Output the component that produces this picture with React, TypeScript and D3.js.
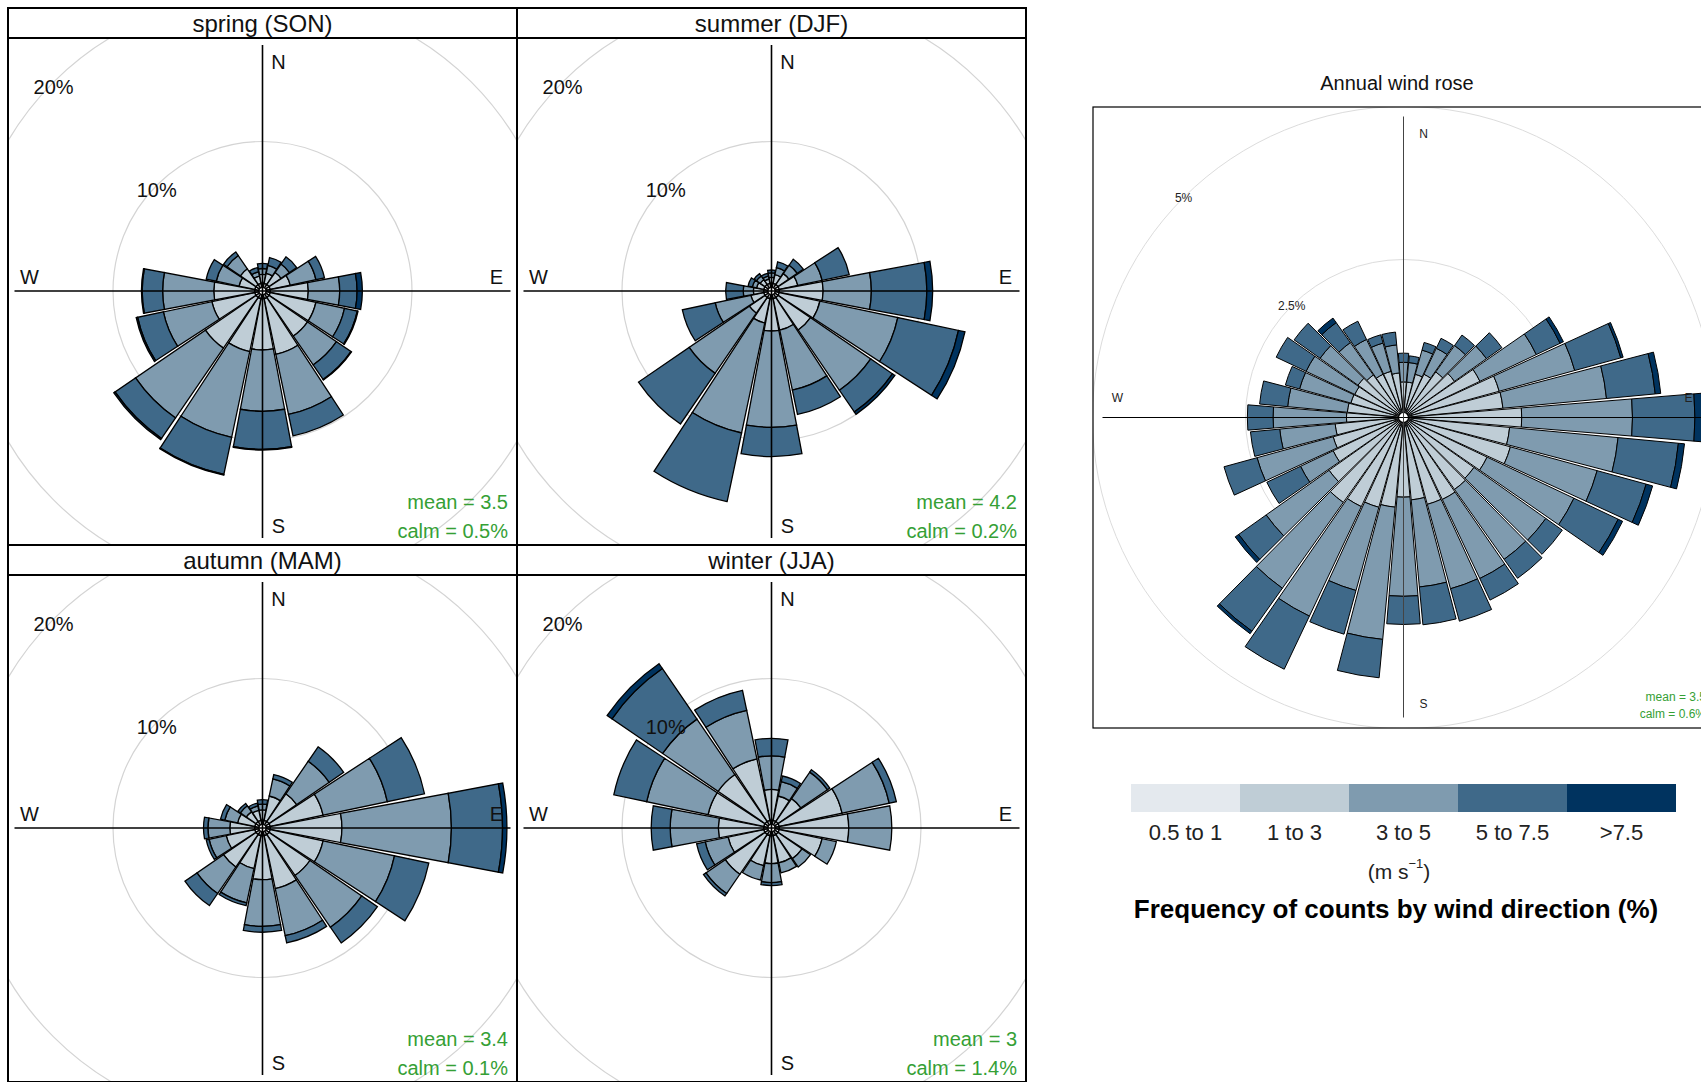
import React from "react";
import * as d3 from "d3";

// Speed bins (legend) and colours
const speedBins = ["0.5 to 1", "1 to 3", "3 to 5", "5 to 7.5", ">7.5"];
const binColors = ["#E4E9EE", "#BFCDD6", "#7F9BAF", "#3F6989", "#00335F"];

// Direction categories (degrees clockwise from north)
const seasonDirs = d3.range(16).map((i) => i * 22.5);
const annualDirs = d3.range(36).map((i) => i * 10);

// Frequency (%) per direction, per speed bin [0.5-1, 1-3, 3-5, 5-7.5, >7.5]
const spring = [
  [0.3, 0.6, 0.4, 0.35, 0],
  [0.3, 0.7, 0.55, 0.55, 0],
  [0.3, 1.0, 0.7, 0.6, 0],
  [0.3, 1.4, 1.8, 0.6, 0],
  [0.3, 2.6, 2.15, 1.19, 0.36],
  [0.3, 3.2, 2.0, 0.9, 0.05],
  [0.3, 3.2, 2.4, 1.2, 0.05],
  [0.3, 3.9, 4.2, 1.5, 0],
  [0.3, 3.5, 4.2, 2.6, 0.05],
  [0.3, 3.7, 6.0, 2.6, 0.05],
  [0.3, 4.2, 5.8, 1.7, 0.1],
  [0.3, 3.0, 3.4, 1.8, 0.1],
  [0.3, 2.8, 3.5, 1.4, 0.05],
  [0.3, 1.1, 1.6, 0.7, 0],
  [0.3, 1.3, 1.1, 0.3, 0],
  [0.3, 0.5, 0.3, 0.3, 0],
];

const summer = [
  [0.3, 0.4, 0.3, 0.2, 0],
  [0.3, 0.6, 0.5, 0.4, 0],
  [0.3, 0.9, 0.7, 0.5, 0],
  [0.3, 1.3, 1.7, 1.9, 0],
  [0.3, 3.0, 3.3, 3.8, 0.4],
  [0.3, 2.85, 5.45, 4.25, 0.45],
  [0.3, 2.7, 5.0, 1.8, 0.2],
  [0.3, 2.2, 4.2, 1.7, 0],
  [0.3, 2.2, 6.6, 2.0, 0],
  [0.3, 1.7, 7.7, 4.8, 0],
  [0.3, 1.3, 5.0, 4.2, 0],
  [0.3, 0.9, 2.5, 2.3, 0],
  [0.3, 0.7, 0.7, 1.2, 0],
  [0.3, 0.5, 0.3, 0.3, 0],
  [0.3, 0.4, 0.3, 0.2, 0],
  [0.3, 0.3, 0.2, 0.2, 0],
];

const autumn = [
  [0.3, 0.7, 0.4, 0.3, 0],
  [0.3, 1.7, 1.2, 0.3, 0],
  [0.3, 2.3, 2.7, 1.2, 0],
  [0.3, 3.7, 4.5, 2.6, 0],
  [0.3, 4.9, 7.5, 3.5, 0.3],
  [0.3, 3.7, 5.0, 2.4, 0],
  [0.3, 3.4, 4.3, 1.3, 0],
  [0.3, 3.7, 3.3, 0.5, 0],
  [0.3, 3.0, 3.2, 0.4, 0],
  [0.3, 2.3, 2.4, 0.2, 0],
  [0.3, 2.7, 2.2, 1.0, 0],
  [0.3, 2.0, 1.2, 0.2, 0],
  [0.3, 1.7, 1.5, 0.3, 0],
  [0.3, 1.2, 0.9, 0.3, 0],
  [0.3, 0.8, 0.5, 0.2, 0],
  [0.3, 0.7, 0.3, 0.2, 0],
];

const winter = [
  [0.3, 2.1, 2.3, 1.2, 0],
  [0.3, 1.7, 1.0, 0.4, 0],
  [0.3, 1.9, 2.2, 0.2, 0],
  [0.3, 4.4, 3.3, 0.5, 0],
  [0.3, 4.75, 2.95, 0, 0],
  [0.3, 3.0, 1.0, 0, 0],
  [0.3, 2.0, 0.7, 0, 0],
  [0.3, 1.9, 0.7, 0, 0],
  [0.3, 1.9, 1.3, 0.2, 0],
  [0.3, 2.1, 1.0, 0, 0],
  [0.3, 3.3, 1.6, 0.2, 0],
  [0.3, 2.5, 1.6, 0.6, 0],
  [0.3, 3.1, 3.3, 1.3, 0],
  [0.3, 3.9, 4.3, 2.3, 0],
  [0.3, 3.9, 4.6, 4.2, 0.4],
  [0.3, 4.3, 3.4, 1.4, 0],
];

const annual = [
  [0.06, 0.44, 0.32, 0.15, 0],
  [0.06, 0.44, 0.32, 0.11, 0],
  [0.06, 0.59, 0.41, 0.13, 0],
  [0.06, 0.64, 0.47, 0.18, 0],
  [0.06, 0.77, 0.53, 0.21, 0],
  [0.06, 0.88, 0.64, 0.31, 0],
  [0.06, 1.24, 1.02, 0.43, 0.06],
  [0.06, 1.48, 1.28, 0.78, 0.04],
  [0.06, 1.49, 1.7, 0.8, 0.09],
  [0.06, 1.79, 1.81, 1.02, 0.17],
  [0.06, 1.6, 1.78, 0.99, 0.1],
  [0.06, 1.67, 1.47, 0.83, 0.11],
  [0.06, 1.37, 1.57, 0.8, 0.08],
  [0.06, 1.27, 1.44, 0.33, 0],
  [0.06, 1.3, 1.4, 0.38, 0],
  [0.06, 1.34, 1.43, 0.39, 0],
  [0.06, 1.33, 1.43, 0.55, 0],
  [0.06, 1.21, 1.43, 0.62, 0],
  [0.06, 1.16, 1.62, 0.46, 0],
  [0.06, 1.33, 2.17, 0.63, 0],
  [0.06, 1.38, 1.41, 0.74, 0],
  [0.06, 1.47, 1.98, 0.96, 0],
  [0.06, 1.56, 1.72, 0.86, 0.05],
  [0.06, 1.35, 1.26, 0.55, 0.07],
  [0.06, 1.13, 0.59, 0.61, 0],
  [0.06, 1.05, 1.29, 0.56, 0],
  [0.06, 0.98, 0.91, 0.48, 0],
  [0.06, 0.79, 1.2, 0.42, 0],
  [0.06, 0.78, 0.98, 0.46, 0],
  [0.06, 0.75, 0.87, 0.24, 0],
  [0.06, 0.74, 0.88, 0.54, 0],
  [0.06, 0.77, 0.76, 0.52, 0],
  [0.06, 0.71, 0.65, 0.4, 0.09],
  [0.06, 0.64, 0.63, 0.33, 0],
  [0.06, 0.64, 0.48, 0.14, 0],
  [0.06, 0.59, 0.46, 0.21, 0],
];

const seasonNames = ["spring (SON)", "summer (DJF)", "autumn (MAM)", "winter (JJA)"];
const seasonMeans = ["3.5", "4.2", "3.4", "3"];
const seasonCalms = ["0.5%", "0.2%", "0.1%", "1.4%"];
const seasonGrid = [10, 20];
const annualGrid = [2.5, 5];
const annualMean = "3.5";
const annualCalm = "0.6%";

const FONT = "'Liberation Sans', Arial, Helvetica, sans-serif";
const GREEN = "#35a035";

type RoseProps = {
  cx: number;
  cy: number;
  rows: number[][];
  dirs: number[];
  r: d3.ScaleLinear<number, number>;
  half: number;
  sw: number;
};

function RoseBars({ cx, cy, rows, dirs, r, half, sw }: RoseProps) {
  const arc = d3.arc<any>();
  const paths: React.ReactNode[] = [];
  rows.forEach((row, i) => {
    const a = (dirs[i] * Math.PI) / 180;
    const h = (half * Math.PI) / 180;
    const cum = Array.from(d3.cumsum(row));
    row.forEach((v, j) => {
      if (v <= 0) return;
      const prev = j === 0 ? 0 : cum[j - 1];
      const d = arc({
        innerRadius: r(prev),
        outerRadius: r(cum[j]),
        startAngle: a - h,
        endAngle: a + h,
      });
      paths.push(
        <path
          key={`${i}-${j}`}
          d={d || ""}
          transform={`translate(${cx},${cy})`}
          fill={binColors[j]}
          stroke="#000"
          strokeWidth={sw}
          strokeLinejoin="miter"
        />
      );
    });
  });
  return <g>{paths}</g>;
}

function SeasonPanel({ idx }: { idx: number }) {
  const col = idx % 2;
  const row = Math.floor(idx / 2);
  const x0 = 8 + col * 509;
  const x1 = x0 + 509;
  const y0 = 8 + row * 537;
  const sb = y0 + 30;
  const y1 = y0 + 537;
  const cx = x0 + 254.5;
  const cy = sb + 253;
  const r = d3.scaleLinear().domain([0, 10]).range([3.5, 149.5]);
  const rows = [spring, summer, autumn, winter][idx];
  return (
    <g>
      <clipPath id={`clipS${idx}`}>
        <rect x={x0} y={sb} width={x1 - x0} height={y1 - sb} />
      </clipPath>
      <g clipPath={`url(#clipS${idx})`}>
        {seasonGrid.map((p) => (
          <circle key={p} cx={cx} cy={cy} r={r(p)} fill="none" stroke="#d4d4d4" strokeWidth={1.2} />
        ))}
        <RoseBars cx={cx} cy={cy} rows={rows} dirs={seasonDirs} r={r} half={10.6} sw={1.3} />
        <circle cx={cx} cy={cy} r={3.5} fill="#fff" stroke="#000" strokeWidth={1.2} />
        <line x1={cx - 248} x2={cx + 248} y1={cy} y2={cy} stroke="#000" strokeWidth={1.6} />
        <line x1={cx} x2={cx} y1={cy - 246} y2={cy + 247} stroke="#000" strokeWidth={1.6} />
        {seasonGrid.map((p) => (
          <text
            key={p}
            x={cx - r(p) * Math.SQRT1_2}
            y={cy - r(p) * Math.SQRT1_2 + 5}
            fontSize={20}
            fontFamily={FONT}
            textAnchor="middle"
            dominantBaseline="central"
            fill="#111"
          >
            {p}%
          </text>
        ))}
        <g fontSize={20} fontFamily={FONT} fill="#111" textAnchor="middle" dominantBaseline="central">
          <text x={cx + 16} y={cy - 229}>N</text>
          <text x={cx + 16} y={cy + 235}>S</text>
          <text x={cx - 233} y={cy - 14}>W</text>
          <text x={cx + 234} y={cy - 14}>E</text>
        </g>
        <g fontSize={20} fontFamily={FONT} fill={GREEN} textAnchor="end" dominantBaseline="central">
          <text x={x1 - 9} y={y1 - 43.5}>mean = {seasonMeans[idx]}</text>
          <text x={x1 - 9} y={y1 - 13.6}>calm = {seasonCalms[idx]}</text>
        </g>
      </g>
      <rect x={x0} y={y0} width={x1 - x0} height={sb - y0} fill="none" stroke="#000" strokeWidth={2} />
      <text
        x={(x0 + x1) / 2}
        y={y0 + 24}
        fontSize={24}
        fontFamily={FONT}
        textAnchor="middle"
        fill="#111"
      >
        {seasonNames[idx]}
      </text>
      <rect x={x0} y={y0} width={x1 - x0} height={y1 - y0} fill="none" stroke="#000" strokeWidth={2} />
    </g>
  );
}

function AnnualPanel() {
  const bx = 1093;
  const by = 107;
  const bs = 621;
  const cx = bx + bs / 2;
  const cy = by + bs / 2;
  const r = d3.scaleLinear().domain([0, 5]).range([5, 311]);
  return (
    <g>
      <text x={1397} y={83} fontSize={20} fontFamily={FONT} textAnchor="middle" dominantBaseline="central" fill="#111">
        Annual wind rose
      </text>
      <clipPath id="clipA">
        <rect x={bx} y={by} width={bs} height={bs} />
      </clipPath>
      <g clipPath="url(#clipA)">
        {annualGrid.map((p) => (
          <circle key={p} cx={cx} cy={cy} r={r(p)} fill="none" stroke="#dcdcdc" strokeWidth={1} />
        ))}
        <RoseBars cx={cx} cy={cy} rows={annual} dirs={annualDirs} r={r} half={4.65} sw={1} />
        <circle cx={cx} cy={cy} r={5} fill="#fff" stroke="#000" strokeWidth={1.2} />
        <line x1={cx - 301} x2={cx + 301} y1={cy} y2={cy} stroke="#000" strokeWidth={1} />
        <line x1={cx} x2={cx} y1={cy - 301} y2={cy + 300} stroke="#444" strokeWidth={1} />
        {annualGrid.map((p) => (
          <text
            key={p}
            x={cx - r(p) * Math.SQRT1_2}
            y={cy - r(p) * Math.SQRT1_2}
            fontSize={12}
            fontFamily={FONT}
            textAnchor="middle"
            dominantBaseline="central"
            fill="#222"
          >
            {p}%
          </text>
        ))}
        <g fontSize={12} fontFamily={FONT} fill="#222" textAnchor="middle" dominantBaseline="central">
          <text x={cx + 20} y={cy - 284}>N</text>
          <text x={cx + 20} y={cy + 286}>S</text>
          <text x={cx - 286} y={cy - 20}>W</text>
          <text x={cx + 285} y={cy - 20}>E</text>
        </g>
        <g fontSize={12} fontFamily={FONT} fill={GREEN} textAnchor="end" dominantBaseline="central">
          <text x={bx + bs - 8} y={697}>mean = {annualMean}</text>
          <text x={bx + bs - 8} y={714}>calm = {annualCalm}</text>
        </g>
      </g>
      <rect x={bx} y={by} width={bs} height={bs} fill="none" stroke="#000" strokeWidth={1.2} />
    </g>
  );
}

function Legend() {
  const x = d3.scaleBand().domain(speedBins).range([1131, 1676]).padding(0);
  return (
    <g>
      {speedBins.map((b, i) => (
        <rect key={b} x={x(b)} y={784} width={x.bandwidth()} height={28} fill={binColors[i]} />
      ))}
      {speedBins.map((b) => (
        <text
          key={b}
          x={(x(b) || 0) + x.bandwidth() / 2}
          y={832}
          fontSize={22}
          fontFamily={FONT}
          textAnchor="middle"
          dominantBaseline="central"
          fill="#222"
        >
          {b}
        </text>
      ))}
      <text x={1399} y={871} fontSize={21} fontFamily={FONT} textAnchor="middle" dominantBaseline="central" fill="#222">
        (m s<tspan fontSize={13} dy={-8}>−1</tspan>
        <tspan dy={8}>)</tspan>
      </text>
      <text
        x={1396}
        y={909}
        fontSize={26}
        fontWeight="bold"
        fontFamily={FONT}
        textAnchor="middle"
        dominantBaseline="central"
        fill="#000"
      >
        Frequency of counts by wind direction (%)
      </text>
    </g>
  );
}

export default function App() {
  return (
    <svg
      width={1701}
      height={1082}
      style={{ position: "absolute", left: 0, top: 0, display: "block", background: "#fff" }}
    >
      <rect x={0} y={0} width={1701} height={1082} fill="#fff" />
      {[0, 1, 2, 3].map((i) => (
        <SeasonPanel key={i} idx={i} />
      ))}
      <AnnualPanel />
      <Legend />
    </svg>
  );
}
